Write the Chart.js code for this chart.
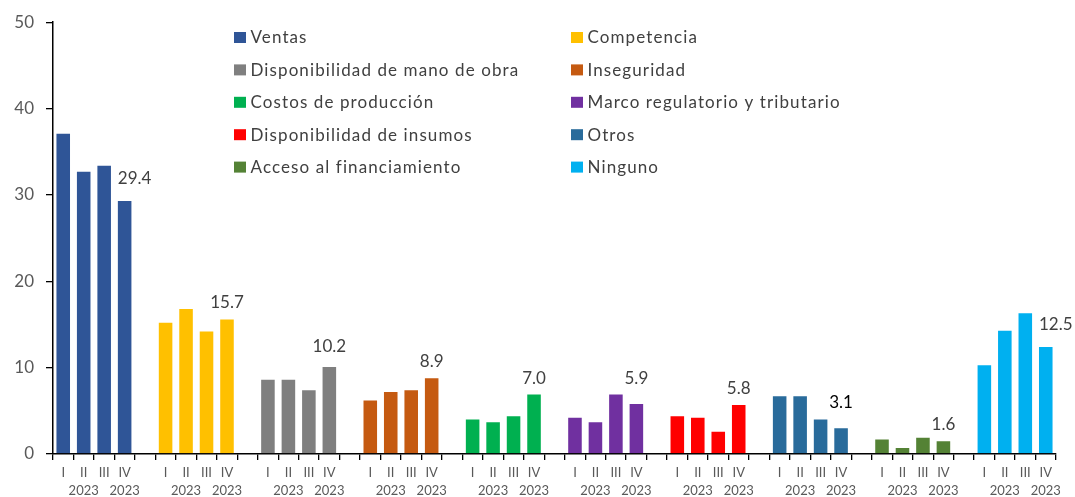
<!DOCTYPE html>
<html>
<head>
<meta charset="utf-8">
<script src="https://cdn.jsdelivr.net/npm/chart.js@4"></script>
<style>
  body { margin: 0; background: #fff; }
  #wrap { width: 1075px; height: 497px; }
</style>
</head>
<body>
<div id="wrap"><canvas id="myChart" width="1075" height="497"></canvas></div>
<script>
// quarters and categories
var quarters = ['I', 'II', 'III', 'IV'];
var yearLabel = '2023';
var categories = [
  'Ventas', 'Competencia', 'Disponibilidad de mano de obra', 'Inseguridad',
  'Costos de producción', 'Marco regulatorio y tributario', 'Disponibilidad de insumos',
  'Otros', 'Acceso al financiamiento', 'Ninguno'
];

// values per category, quarters I..IV
var ventas = [37.2, 32.8, 33.5, 29.4];
var competencia = [15.3, 16.9, 14.3, 15.7];
var manoObra = [8.7, 8.7, 7.5, 10.2];
var inseguridad = [6.3, 7.3, 7.5, 8.9];
var costos = [4.1, 3.8, 4.5, 7.0];
var marco = [4.3, 3.8, 7.0, 5.9];
var insumos = [4.5, 4.3, 2.7, 5.8];
var otros = [6.8, 6.8, 4.1, 3.1];
var financiamiento = [1.8, 0.8, 2.0, 1.6];
var ninguno = [10.4, 14.4, 16.4, 12.5];

var yTicks = [0, 10, 20, 30, 40, 50];

var series = [ventas, competencia, manoObra, inseguridad, costos, marco, insumos, otros, financiamiento, ninguno];
var colors = ['#2F5597', '#FFC000', '#7F7F7F', '#C55A11', '#00B050', '#7030A0', '#FF0000', '#296B9B', '#548235', '#00B0F0'];

// one slot per quarter, plus an empty slot between groups
var labels = [];
series.forEach(function(s, g) {
  quarters.forEach(function(q, i) {
    labels.push([q, i % 2 === 1 ? yearLabel : '']);
  });
  if (g < series.length - 1) labels.push('');
});

var datasets = series.map(function(s, g) {
  var data = labels.map(function() { return null; });
  s.forEach(function(v, i) { data[g * 5 + i] = v; });
  return {
    label: categories[g],
    data: data,
    backgroundColor: colors[g],
    borderColor: 'rgba(255,255,255,0.35)',
    borderWidth: 1
  };
});

var legendPlugin = {
  id: 'sideLegend',
  afterDraw: function(chart) {
    var ctx = chart.ctx;
    ctx.save();
    ctx.font = '17px Lato';
    ctx.letterSpacing = '1.1px';
    ctx.textBaseline = 'middle';
    ctx.textAlign = 'left';
    chart.data.datasets.forEach(function(ds, i) {
      var x = i % 2 === 0 ? 234 : 571;
      var y = 37 + Math.floor(i / 2) * 32.4;
      ctx.fillStyle = ds.backgroundColor;
      ctx.fillRect(x, y - 5, 12, 11);
      ctx.fillStyle = '#404040';
      ctx.fillText(ds.label, x + 16.5, y + 1);
    });
    ctx.restore();
  }
};

var lastLabelPlugin = {
  id: 'lastLabel',
  afterDatasetsDraw: function(chart, args, opts) {
    var ctx = chart.ctx;
    ctx.save();
    ctx.font = '17px Lato';
    ctx.textAlign = 'center';
    ctx.textBaseline = 'bottom';
    chart.data.datasets.forEach(function(ds, g) {
      var idx = g * 5 + 3;
      var el = chart.getDatasetMeta(g).data[idx];
      var shift = opts.shift[g] || [0, 0];
      ctx.fillStyle = g === 7 ? '#000' : '#404040';
      ctx.fillText(ds.data[idx].toFixed(1), el.x + shift[0], el.y - 7 - shift[1]);
    });
    ctx.restore();
  }
};

var ctx = document.getElementById('myChart').getContext('2d');
var myChart = new Chart(ctx, {
  type: 'bar',
  data: { labels: labels, datasets: datasets },
  options: {
    responsive: false,
    animation: false,
    devicePixelRatio: 1,
    layout: { padding: { left: 0, right: 19, top: 19, bottom: 0 } },
    datasets: { bar: { grouped: false, barPercentage: 0.76, categoryPercentage: 1 } },
    plugins: {
      legend: { display: false },
      tooltip: { enabled: false },
      lastLabel: { shift: { 0: [10, 6], 2: [0, 4], 5: [0, 9], 7: [0, 9], 9: [10, 6] } }
    },
    scales: {
      x: {
        offset: true,
        grid: { offset: true, drawOnChartArea: false, drawTicks: true, tickLength: 6, color: '#000', lineWidth: 1.3 },
        border: { color: '#000', width: 1.5 },
        ticks: { autoSkip: false, maxRotation: 0, color: '#595959', font: { family: 'Lato', size: 13, lineHeight: 1.4 }, padding: 4 },
        afterFit: function(scale) { scale.height = 43; }
      },
      y: {
        min: 0,
        max: 50,
        afterBuildTicks: function(scale) { scale.ticks = yTicks.map(function(v) { return { value: v }; }); },
        grid: { drawOnChartArea: false, tickLength: 7, color: '#000', lineWidth: 1.3 },
        border: { color: '#000', width: 1.5 },
        ticks: { color: '#595959', font: { family: 'Lato', size: 17 }, padding: 12 },
        afterFit: function(scale) { scale.width = 53; }
      }
    }
  },
  plugins: [legendPlugin, lastLabelPlugin]
});
</script>
</body>
</html>
